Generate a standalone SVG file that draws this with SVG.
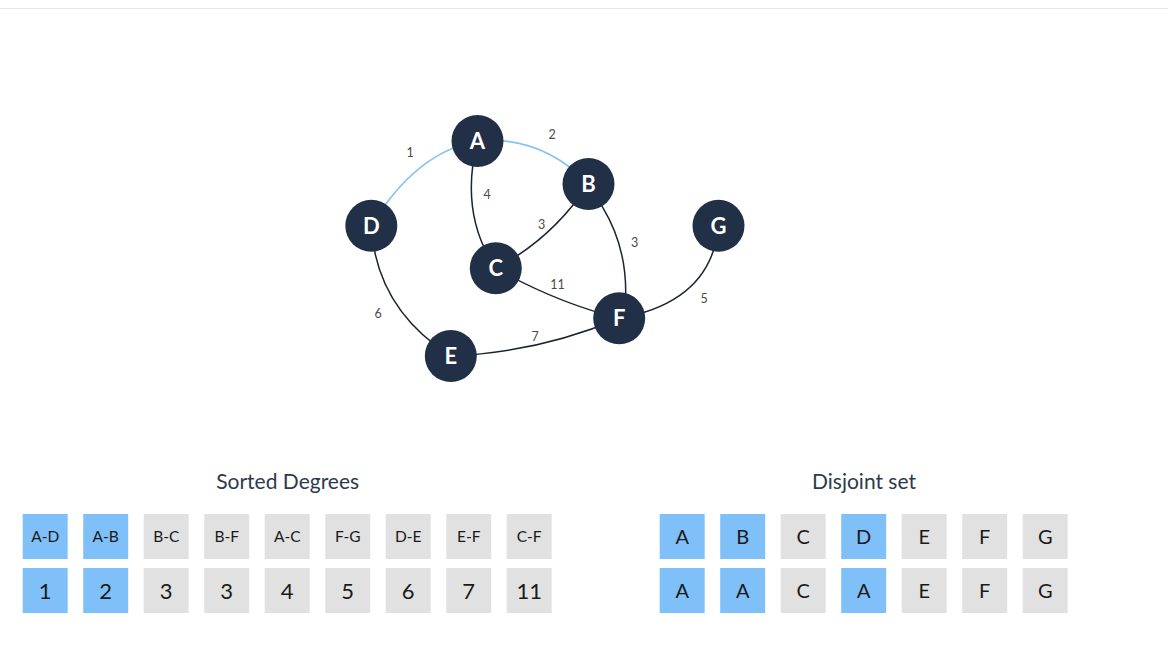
<svg xmlns="http://www.w3.org/2000/svg" width="1168" height="651" viewBox="0 0 1168 651">
<style>
.edge{fill:none;stroke:#1c2333;stroke-width:1.5}
.mst{fill:none;stroke:#86c1ef;stroke-width:1.6}
.node circle{fill:#213047}
.node text{font-family:Lato,"Noto Sans",sans-serif;font-weight:bold;font-size:22px;fill:#ffffff;text-anchor:middle}
.wt{font-family:Lato,"Noto Sans",sans-serif;font-size:12.5px;fill:#4a4a4a;text-anchor:middle}
.title{font-family:Lato,"Noto Sans",sans-serif;font-size:21px;fill:#2d3a4b;text-anchor:middle}
.on{fill:#80c0f9}
.off{fill:#e1e1e1}
.small{font-family:Lato,"Noto Sans",sans-serif;font-size:15.5px;fill:#1a1a1a;text-anchor:middle}
.big{font-family:Lato,"Noto Sans",sans-serif;font-size:22px;fill:#1a1a1a;text-anchor:middle}
.let{font-family:Lato,"Noto Sans",sans-serif;font-size:20px;fill:#1a1a1a;text-anchor:middle}
</style>
<rect x="0" y="0" width="1168" height="651" fill="#ffffff"/>
<line x1="0" y1="8.5" x2="1168" y2="8.5" stroke="#e6e6e6" stroke-width="1"/>

<g id="connectors">
  <path id="e-AD" class="mst" d="M477.5,141 Q416,152 371.3,225.8"/>
  <path id="e-AB" class="mst" d="M477.5,141 Q541,135 588.5,184"/>
  <path id="e-AC" class="edge" d="M477.5,141 Q459,214 495.8,268.3"/>
  <path id="e-BC" class="edge" d="M588.5,184 Q552,239 495.8,268.3"/>
  <path id="e-BF" class="edge" d="M588.5,184 Q596,195 602.7,207.3 C614,226 626,255 625.7,292.7 L625,300"/>
  <path id="e-GF" class="edge" d="M718.5,225.8 Q711.5,302 619.2,318.3"/>
  <path id="e-CF" class="edge" d="M495.8,268.3 Q556.4,302.6 619.2,318.3"/>
  <path id="e-DE" class="edge" d="M371.3,225.8 Q376,308.5 450.8,356"/>
  <path id="e-EF" class="edge" d="M450.8,356 Q538.9,352.5 619.2,318.3"/>
  <text class="wt" x="410" y="157.4">1</text>
  <text class="wt" x="552" y="139.4">2</text>
  <text class="wt" x="487" y="199.4">4</text>
  <text class="wt" x="541.5" y="229.4">3</text>
  <text class="wt" x="634.5" y="246.6">3</text>
  <text class="wt" x="704" y="302.6">5</text>
  <text class="wt" x="557.5" y="289.4">11</text>
  <text class="wt" x="378" y="318.4">6</text>
  <text class="wt" x="535" y="341.2">7</text>
</g>

<g id="node-A" class="node"><circle cx="477.5" cy="141" r="26"/><text x="477.5" y="149">A</text></g>
<g id="node-B" class="node"><circle cx="588.5" cy="184" r="26"/><text x="588.5" y="192">B</text></g>
<g id="node-C" class="node"><circle cx="495.8" cy="268.3" r="26"/><text x="495.8" y="276.3">C</text></g>
<g id="node-D" class="node"><circle cx="371.3" cy="225.8" r="26"/><text x="371.3" y="233.8">D</text></g>
<g id="node-E" class="node"><circle cx="450.8" cy="356" r="26"/><text x="450.8" y="364">E</text></g>
<g id="node-F" class="node"><circle cx="619.2" cy="318.3" r="26"/><text x="619.2" y="326.3">F</text></g>
<g id="node-G" class="node"><circle cx="718.5" cy="225.8" r="26"/><text x="718.5" y="233.8">G</text></g>

<g id="sorted-degrees">
  <text class="title" x="287.7" y="488.5">Sorted Degrees</text>
  <rect class="on" x="22.7" y="514" width="45" height="45"/>
  <rect class="on" x="83.2" y="514" width="45" height="45"/>
  <rect class="off" x="143.7" y="514" width="45" height="45"/>
  <rect class="off" x="204.2" y="514" width="45" height="45"/>
  <rect class="off" x="264.7" y="514" width="45" height="45"/>
  <rect class="off" x="325.2" y="514" width="45" height="45"/>
  <rect class="off" x="385.7" y="514" width="45" height="45"/>
  <rect class="off" x="446.2" y="514" width="45" height="45"/>
  <rect class="off" x="506.7" y="514" width="45" height="45"/>
  <rect class="on" x="22.7" y="568" width="45" height="45"/>
  <rect class="on" x="83.2" y="568" width="45" height="45"/>
  <rect class="off" x="143.7" y="568" width="45" height="45"/>
  <rect class="off" x="204.2" y="568" width="45" height="45"/>
  <rect class="off" x="264.7" y="568" width="45" height="45"/>
  <rect class="off" x="325.2" y="568" width="45" height="45"/>
  <rect class="off" x="385.7" y="568" width="45" height="45"/>
  <rect class="off" x="446.2" y="568" width="45" height="45"/>
  <rect class="off" x="506.7" y="568" width="45" height="45"/>
  <text class="small" x="45.2" y="542">A-D</text>
  <text class="small" x="105.7" y="542">A-B</text>
  <text class="small" x="166.2" y="542">B-C</text>
  <text class="small" x="226.7" y="542">B-F</text>
  <text class="small" x="287.2" y="542">A-C</text>
  <text class="small" x="347.7" y="542">F-G</text>
  <text class="small" x="408.2" y="542">D-E</text>
  <text class="small" x="468.7" y="542">E-F</text>
  <text class="small" x="529.2" y="542">C-F</text>
  <text class="big" x="45.2" y="598.5">1</text>
  <text class="big" x="105.7" y="598.5">2</text>
  <text class="big" x="166.2" y="598.5">3</text>
  <text class="big" x="226.7" y="598.5">3</text>
  <text class="big" x="287.2" y="598.5">4</text>
  <text class="big" x="347.7" y="598.5">5</text>
  <text class="big" x="408.2" y="598.5">6</text>
  <text class="big" x="468.7" y="598.5">7</text>
  <text class="big" x="529.2" y="598.5">11</text>
</g>

<g id="disjoint-set">
  <text class="title" x="864" y="488.5">Disjoint set</text>
  <rect class="on" x="659.7" y="514" width="45" height="45"/>
  <rect class="on" x="720.2" y="514" width="45" height="45"/>
  <rect class="off" x="780.7" y="514" width="45" height="45"/>
  <rect class="on" x="841.2" y="514" width="45" height="45"/>
  <rect class="off" x="901.7" y="514" width="45" height="45"/>
  <rect class="off" x="962.2" y="514" width="45" height="45"/>
  <rect class="off" x="1022.7" y="514" width="45" height="45"/>
  <rect class="on" x="659.7" y="568" width="45" height="45"/>
  <rect class="on" x="720.2" y="568" width="45" height="45"/>
  <rect class="off" x="780.7" y="568" width="45" height="45"/>
  <rect class="on" x="841.2" y="568" width="45" height="45"/>
  <rect class="off" x="901.7" y="568" width="45" height="45"/>
  <rect class="off" x="962.2" y="568" width="45" height="45"/>
  <rect class="off" x="1022.7" y="568" width="45" height="45"/>
  <text class="let" x="682.2" y="543.8">A</text>
  <text class="let" x="742.7" y="543.8">B</text>
  <text class="let" x="803.2" y="543.8">C</text>
  <text class="let" x="863.7" y="543.8">D</text>
  <text class="let" x="924.2" y="543.8">E</text>
  <text class="let" x="984.7" y="543.8">F</text>
  <text class="let" x="1045.2" y="543.8">G</text>
  <text class="let" x="682.2" y="597.8">A</text>
  <text class="let" x="742.7" y="597.8">A</text>
  <text class="let" x="803.2" y="597.8">C</text>
  <text class="let" x="863.7" y="597.8">A</text>
  <text class="let" x="924.2" y="597.8">E</text>
  <text class="let" x="984.7" y="597.8">F</text>
  <text class="let" x="1045.2" y="597.8">G</text>
</g>
</svg>
